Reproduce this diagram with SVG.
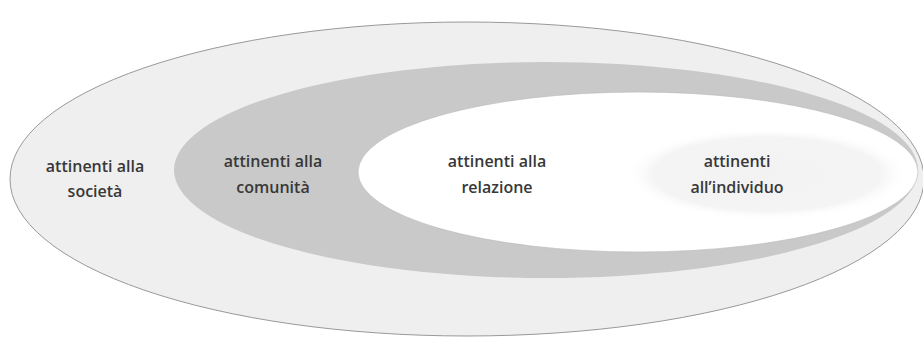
<svg xmlns="http://www.w3.org/2000/svg" width="923" height="338" viewBox="0 0 923 338">
<style>
.lbl{font-family:"Open Sans","Liberation Sans",sans-serif;font-weight:600;font-size:16px;fill:#383838;text-anchor:middle}
</style>
<defs>
<radialGradient id="indiv" cx="0.5" cy="0.5" r="0.5">
<stop offset="0" stop-color="#f2f2f2"/>
<stop offset="0.8" stop-color="#f4f4f4"/>
<stop offset="1" stop-color="#ffffff" stop-opacity="0"/>
</radialGradient>
</defs>
<rect width="923" height="338" fill="#ffffff"/>
<g id="societa">
<ellipse cx="467" cy="179" rx="457" ry="157" fill="#efefef" stroke="#999999" stroke-width="1"/>
<text class="lbl" x="95" y="172">attinenti alla</text>
<text class="lbl" x="95" y="197">società</text>
</g>
<g id="comunita">
<ellipse cx="546" cy="170" rx="372" ry="108" fill="#c9c9c9"/>
<text class="lbl" x="273" y="167">attinenti alla</text>
<text class="lbl" x="273" y="193">comunità</text>
</g>
<g id="relazione">
<ellipse cx="638" cy="172" rx="280" ry="80" fill="#ffffff" stroke="#b5b5b5" stroke-width="0.6"/>
<text class="lbl" x="497" y="167">attinenti alla</text>
<text class="lbl" x="497" y="193">relazione</text>
</g>
<g id="individuo">
<ellipse cx="767" cy="174" rx="142" ry="46" fill="url(#indiv)"/>
<text class="lbl" x="737" y="167">attinenti</text>
<text class="lbl" x="737" y="193">all’individuo</text>
</g>
<g id="connectors"/>
</svg>
